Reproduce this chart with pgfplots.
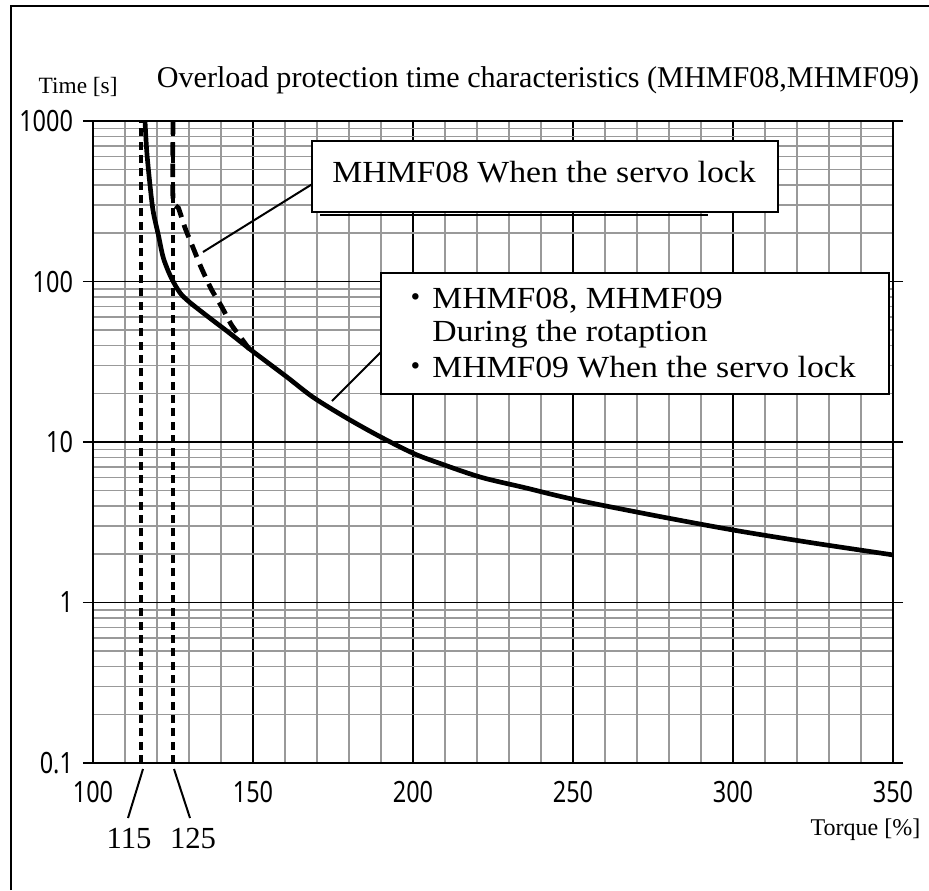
\documentclass[border=0pt]{standalone}
\usepackage{pgfplots}
\pgfplotsset{compat=1.18}
\usepackage{fontspec}
\setmainfont{Liberation Serif}
\newfontfamily\tickfont[FakeStretch=0.8]{Noto Sans}
\newfontfamily\minfont[FakeStretch=1.1]{Liberation Serif}
\newfontfamily\cjk{Noto Sans CJK JP}

\begin{document}
\begin{tikzpicture}
\begin{axis}[
    at={(69.75pt,-572.25pt)}, anchor=south west,
    scale only axis, width=600pt, height=481.5pt,
    xmin=100, xmax=350,
    ymode=log, ymin=0.1, ymax=1000,
    xtick={100,150,...,350},
    xticklabels={100,150,200,250,300,350},
    minor xtick={110,120,130,140,160,170,180,190,210,220,230,240,260,270,280,290,310,320,330,340},
    ytick={0.1,1,10,100,1000},
    yticklabels={0.1,1,10,100,1000},
    grid=both,
    major grid style={black, line width=0.8pt},
    minor grid style={black!40, line width=1.1pt},
    axis line style={line width=1.2pt},
    tick align=outside,
    major tick length=7.5pt, minor tick length=0pt,
    xtick style={draw=none},
    ytick style={black, line width=1.2pt},
    tick label style={font=\tickfont\fontsize{22}{26}\selectfont},
    xticklabel style={yshift=-3pt},
    yticklabel style={xshift=-4pt},
]
% 115 / 125 limits
\addplot[line width=3pt, dash pattern=on 6pt off 4pt] coordinates {(115,0.1) (115,1000)};
\addplot[line width=3pt, dash pattern=on 6pt off 4pt] coordinates {(125,0.1) (125,1000)};

% MHMF08, MHMF09 rotation / MHMF09 servo lock
\addplot[line width=3.5pt, smooth, tension=0.5] coordinates {
    (116.25,1000) (116.8,648) (117.8,401) (118.8,274) (120.4,196)
    (122,140) (124.4,106) (127.2,85) (130.3,74) (136.6,59)
    (142.8,47.5) (150.1,36.5) (160.5,25.5) (168.8,19) (179.3,14.1)
    (189.7,10.8) (200.1,8.5) (208.4,7.36) (221,6.05) (235,5.19)
    (250,4.4) (275,3.5) (300,2.83) (325,2.35) (350,1.98)
};

% MHMF08 servo lock
\addplot[line width=3.6pt, dash pattern=on 10pt off 6pt, smooth, tension=0.4] coordinates {
    (125,1000) (125,330) (126.7,287) (128.8,215) (131.3,162) (133.9,121)
    (137.1,88.6) (140.2,69.7) (143.3,53.6) (147.5,41.2) (148.8,38)
};
\end{axis}

\begin{scope}[x=0.75pt,y=-0.75pt]
\path[use as bounding box] (0,0) rectangle (929,890);
\draw[line width=1.2pt] (11,890) -- (11,6) -- (929,6);

% axis titles
\node at (538,80) {\fontsize{22.6}{27}\selectfont Overload protection time characteristics (MHMF08,MHMF09)};
\node[anchor=west] at (34,87) {\fontsize{17.5}{21}\selectfont Time [s]};
\node[anchor=east] at (925,830) {\fontsize{18}{21}\selectfont Torque [\%]};

% 115 / 125 labels
\draw[line width=1.5pt] (143,769) -- (128,818);
\draw[line width=1.5pt] (174,769) -- (190,818);
\node[anchor=base, inner sep=0pt] at (129,848) {\fontsize{23}{27}\selectfont 115};
\node[anchor=base, inner sep=0pt] at (193,848) {\fontsize{23}{27}\selectfont 125};

% callout 1
\draw[line width=1.5pt] (203,252) -- (314,183);
\draw[line width=1.5pt] (320,215) -- (708,215);
\draw[line width=1.2pt, fill=white] (312,141) rectangle (778,212);
\node[anchor=base west, inner sep=0pt] at (332,182) {\minfont\fontsize{23}{27}\selectfont MHMF08 When the servo lock};

% callout 2
\draw[line width=1.5pt] (332,401) -- (383,350);
\draw[line width=1.2pt, fill=white] (381,273) rectangle (889,394);
\node[anchor=base west, inner sep=0pt] at (400,308) {\cjk\fontsize{23}{27}\selectfont ・};
\node[anchor=base west, inner sep=0pt] at (432,308) {\minfont\fontsize{23}{27}\selectfont MHMF08, MHMF09};
\node[anchor=base west, inner sep=0pt] at (432,341) {\minfont\fontsize{23}{27}\selectfont During the rotaption};
\node[anchor=base west, inner sep=0pt] at (400,377) {\cjk\fontsize{23}{27}\selectfont ・};
\node[anchor=base west, inner sep=0pt] at (432,377) {\minfont\fontsize{23}{27}\selectfont MHMF09 When the servo lock};
\end{scope}
\end{tikzpicture}
\end{document}
